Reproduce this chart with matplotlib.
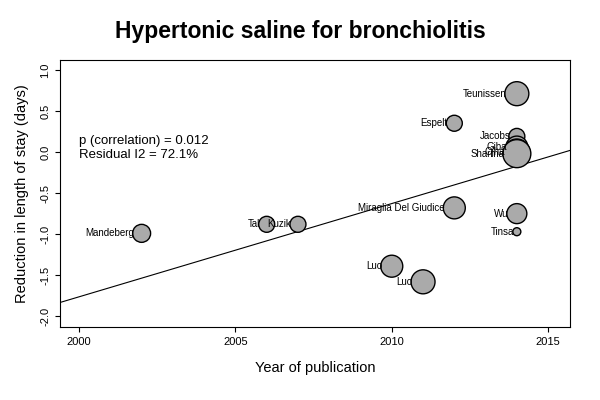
import matplotlib
matplotlib.use("Agg")
import matplotlib.pyplot as plt
import numpy as np

plt.rcParams["font.family"] = ["Liberation Sans", "DejaVu Sans"]

names = ["Mandeberg", "Tal", "Kuzik", "Luo", "Luo", "Miraglia Del Giudice", "Espelt",
         "Teunissen", "Jacobs", "Giba", "Ojha", "Sharma", "Wu", "Tinsa"]
year = [2002, 2006, 2007, 2010, 2011, 2012, 2012, 2014, 2014, 2014, 2014, 2014, 2014, 2014]
effect = [-0.99, -0.88, -0.88, -1.39, -1.58, -0.68, 0.35, 0.71, 0.19, 0.06, 0.0, -0.02, -0.75, -0.97]
radius = [9, 8, 8, 11, 12, 11, 8, 12, 8, 11, 13, 14, 10, 4]
slope = 0.1135
at2015 = -0.06

fig = plt.figure(figsize=(6, 4), dpi=100)
ax = fig.add_axes([0.1, 0.1825, 0.85, 0.6675])
s = [(2 * r * 0.72) ** 2 for r in radius]
ax.scatter(year, effect, s=s, c="#aaaaaa", edgecolors="black", linewidths=1, zorder=3)
for n, x, y, r in zip(names, year, effect, radius):
    ax.annotate(n, (x, y), xytext=(-r * 0.72 + 1, 0), textcoords="offset points",
                ha="right", va="center", fontsize=7, zorder=4)
xs = np.array([1999, 2016])
ax.plot(xs, at2015 + slope * (xs - 2015), color="black", lw=0.8)
ax.set_xlim(1999.39, 2015.7)
ax.set_ylim(-2.13, 1.12)
ax.set_xticks([2000, 2005, 2010, 2015])
ax.set_yticks(np.arange(-2, 1.01, 0.5))
ax.set_yticklabels(["-2.0", "-1.5", "-1.0", "-0.5", "0.0", "0.5", "1.0"], rotation=90, va="center")
ax.tick_params(labelsize=8)
ax.text(2000, 0.05, "p (correlation) = 0.012\nResidual I2 = 72.1%", fontsize=9.5, va="center")
ax.set_xlabel("Year of publication", fontsize=10.5, labelpad=10)
ax.set_ylabel("Reduction in length of stay (days)", fontsize=10.5, labelpad=8)
fig.suptitle("Hypertonic saline for bronchiolitis", fontsize=16.5, fontweight="bold", y=0.95)
fig.savefig("out.png")
